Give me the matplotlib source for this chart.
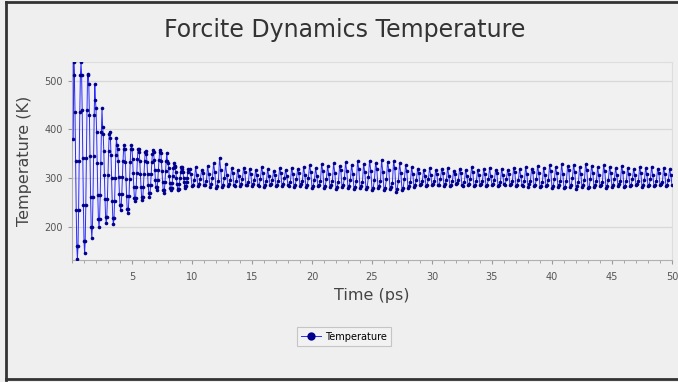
import matplotlib
matplotlib.use("Agg")
import matplotlib.pyplot as plt
from matplotlib.ticker import MultipleLocator
import numpy as np

title = "Forcite Dynamics Temperature"
x_label = "Time (ps)"
y_label = "Temperature (K)"
series_name = "Temperature"
x_ticks = [5, 10, 15, 20, 25, 30, 35, 40, 45, 50]
y_ticks = [200, 300, 400, 500]

# early part of the run (finer sampling), starts at 0.1 ps, 0.05 ps steps
early_start_ps = 0.1
early_step_ps = 0.05
temperature_early = [
    380, 537,
    511, 436, 336, 235, 160, 134, 160, 235, 336, 436, 511,
    537, 512, 439, 342, 244, 171, 146, 171, 244, 342, 439, 512,
    514, 492, 430, 346, 261, 199, 177, 199, 261, 346, 430, 492,
    460, 443, 395, 330, 265, 217, 200, 217, 265, 330, 395, 443,
    404, 391, 355, 306, 257, 221, 208, 221, 257, 306, 355, 391,
    395, 383, 348, 300, 253, 218, 205, 218, 253, 300, 348, 383,
    368, 359, 335, 302, 268, 244, 235, 244, 268, 302, 335, 359,
    368, 359, 333, 298, 263, 237, 228, 237, 263, 298, 333, 359,
    368, 360, 339, 310, 281, 260, 252, 260, 281, 310, 339, 360,
    360, 353, 334, 308, 281, 262, 255, 262, 281, 308, 334, 353,
    355, 349, 332, 309, 285, 269, 262, 269, 285, 309, 332, 349,
    358, 353, 337, 317, 296, 281, 275, 281, 296, 317, 337, 353,
    358, 352, 336, 314, 292, 276, 270, 276, 292, 314, 336, 352,
    335, 331, 320, 305, 290, 279, 275, 279, 290, 305, 320, 331,
    325, 322, 313, 300, 288, 278, 275, 278, 288, 300, 313, 322,
    322, 319, 312, 301, 291, 283, 280, 283, 291, 301, 312, 319,
]

# rest of the run, starts at 9.8 ps, 0.1 ps steps
late_start_ps = 9.8
late_step_ps = 0.1
temperature_late = [
    318, 309, 284, 286, 296, 322, 306, 283, 288, 299,
    316, 311, 286, 285, 293, 325, 308, 282, 287, 300,
    330, 312, 280, 284, 295, 342, 316, 281, 286, 301,
    328, 307, 283, 287, 297, 320, 311, 285, 284, 294,
    317, 305, 284, 288, 298, 321, 312, 286, 285, 292,
    319, 308, 283, 287, 296, 316, 306, 285, 284, 299,
    322, 310, 282, 286, 293, 318, 305, 286, 288, 297,
    315, 307, 284, 285, 295, 320, 311, 283, 287, 300,
    317, 304, 285, 284, 292, 321, 309, 282, 286, 298,
    318, 310, 284, 288, 294, 323, 307, 281, 285, 301,
    326, 313, 280, 284, 296, 320, 305, 283, 286, 293,
    328, 315, 279, 283, 299, 324, 308, 281, 286, 295,
    330, 311, 278, 282, 292, 325, 316, 282, 285, 300,
    332, 314, 279, 283, 297, 327, 309, 277, 281, 294,
    334, 318, 280, 284, 291, 329, 312, 278, 282, 302,
    336, 315, 276, 280, 296, 331, 319, 279, 283, 293,
    337, 313, 275, 279, 298, 333, 317, 277, 281, 290,
    335, 320, 272, 278, 295, 330, 311, 276, 280, 299,
    326, 314, 279, 284, 292, 322, 308, 282, 286, 297,
    319, 310, 285, 287, 295, 317, 305, 284, 286, 299,
    320, 306, 285, 288, 293, 316, 309, 286, 285, 298,
    318, 311, 284, 287, 296, 321, 305, 283, 286, 294,
    315, 308, 287, 289, 297, 319, 310, 285, 284, 292,
    317, 305, 286, 288, 299, 322, 312, 283, 285, 295,
    316, 307, 285, 287, 293, 318, 309, 284, 286, 298,
    321, 304, 286, 288, 296, 317, 311, 284, 285, 292,
    319, 306, 287, 286, 299, 316, 308, 285, 288, 294,
    320, 312, 283, 286, 297, 318, 305, 286, 284, 293,
    322, 309, 282, 287, 295, 319, 313, 284, 285, 299,
    324, 311, 281, 284, 292, 321, 307, 283, 286, 297,
    326, 314, 280, 283, 298, 322, 310, 282, 286, 293,
    328, 309, 279, 282, 295, 324, 316, 281, 285, 300,
    327, 312, 278, 283, 291, 323, 308, 282, 286, 296,
    329, 317, 280, 282, 299, 325, 311, 281, 285, 294,
    322, 306, 283, 286, 292, 326, 314, 280, 284, 297,
    323, 310, 282, 285, 298, 320, 306, 284, 287, 293,
    324, 313, 281, 284, 295, 321, 308, 283, 286, 299,
    318, 307, 285, 288, 293, 322, 311, 282, 285, 296,
    320, 309, 284, 286, 298, 323, 306, 283, 285, 294,
    319, 311, 285, 287, 292, 321, 308, 283, 286, 297,
    318, 307, 286,
]

time_early = early_start_ps + early_step_ps * np.arange(len(temperature_early))
time_late = late_start_ps + late_step_ps * np.arange(len(temperature_late))
time_ps = np.concatenate([time_early, time_late])
temperature = np.array(temperature_early + temperature_late)

bg = "#efefef"
fig = plt.figure(figsize=(6.78, 3.82), dpi=100, facecolor=bg)
ax = fig.add_axes([72 / 678, 1 - 260 / 382, 600 / 678, 198 / 382])
ax.set_facecolor("#f1f1f1")

ax.plot(time_ps, temperature, color="#2a2aff", lw=0.7, marker="o",
        markersize=2.6, markerfacecolor="#00008b", markeredgecolor="#00008b",
        markeredgewidth=0, label=series_name, zorder=3)

ax.set_xlim(0.0, 50.0)
ax.set_ylim(132, 538)
ax.set_xticks(x_ticks)
ax.set_yticks(y_ticks)
ax.xaxis.set_minor_locator(MultipleLocator(1))
ax.grid(axis="y", color="#d8d8d8", lw=0.9)
ax.set_axisbelow(True)

for s in ["top", "right"]:
    ax.spines[s].set_color("#dddddd")
for s in ["left", "bottom"]:
    ax.spines[s].set_color("#b0b0b0")
ax.tick_params(axis="both", which="major", labelsize=7, colors="#9a9a9a",
               labelcolor="#555555", length=3, width=0.8)
ax.tick_params(axis="x", which="major", pad=6)
ax.tick_params(axis="x", which="minor", length=2, colors="#9a9a9a", width=0.6)

ax.set_xlabel(x_label, fontsize=11.5, color="#444444", labelpad=4)
ax.set_ylabel(y_label, fontsize=11.5, color="#444444", labelpad=9)

fig.text(0.509, 0.921, title, ha="center", va="center", fontsize=17,
         color="#333333")

leg = fig.legend(loc="center", bbox_to_anchor=(344 / 678, 1 - 336.5 / 382),
                 fontsize=7, frameon=True, fancybox=False, handlelength=2.0,
                 borderpad=0.5, handletextpad=0.4, markerscale=2.3)
leg.get_frame().set_edgecolor("#bbbbbb")
leg.get_frame().set_facecolor("#f4f4f4")
leg.get_frame().set_linewidth(0.8)

# outer border (left, top, bottom)
fig.add_artist(plt.Line2D([5.5 / 678, 5.5 / 678], [2 / 382, 1 - 2 / 382],
                          transform=fig.transFigure, color="#333333", lw=2))
fig.add_artist(plt.Line2D([5.5 / 678, 1], [1 - 2 / 382, 1 - 2 / 382],
                          transform=fig.transFigure, color="#333333", lw=2))
fig.add_artist(plt.Line2D([5.5 / 678, 1], [3 / 382, 3 / 382],
                          transform=fig.transFigure, color="#333333", lw=2))

fig.savefig("out.png", dpi=100, facecolor=bg)
